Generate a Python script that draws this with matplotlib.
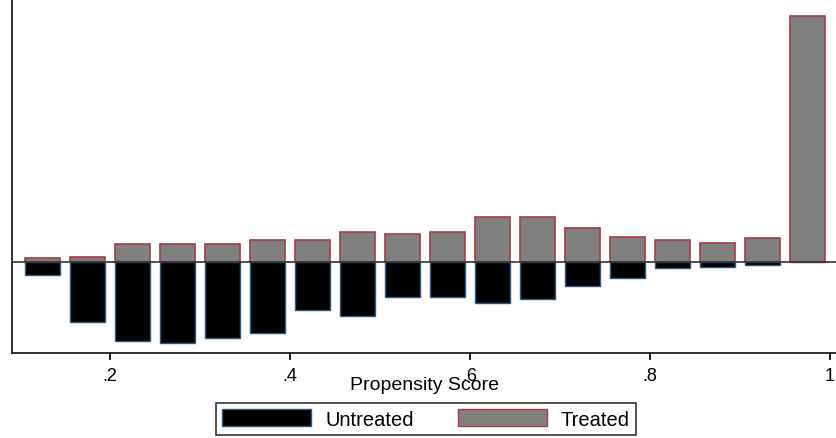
import numpy as np
import matplotlib
matplotlib.use('Agg')
import matplotlib.pyplot as plt
from matplotlib.patches import Patch

plt.rcParams['font.family'] = ['Liberation Sans', 'DejaVu Sans']

# bin centres of the propensity score histogram
bins = [0.125, 0.175, 0.225, 0.275, 0.325, 0.375, 0.425, 0.475, 0.525,
        0.575, 0.625, 0.675, 0.725, 0.775, 0.825, 0.875, 0.925, 0.975]
# bar heights (arbitrary frequency units)
treated = [4, 5, 18, 18, 18, 22, 22, 30, 28, 30, 45, 45, 34, 25, 22, 19, 24, 246]
untreated = [13, 60, 79, 81, 76, 71, 48, 54, 35, 35, 41, 37, 24, 16, 6, 5, 2.5, 0]

tick_pos = [0.2, 0.4, 0.6, 0.8, 1.0]
tick_lab = ['.2', '.4', '.6', '.8', '1']

fig = plt.figure(figsize=(8.36, 4.39), dpi=100)
ax = fig.add_axes([12/836, 85/439, 826/836, 354/439])

w = 0.038
ax.bar(bins, treated, width=w, color='#808080', edgecolor='#a83a44', linewidth=1.2)
ax.bar(bins, [-u for u in untreated], width=w, color='black', edgecolor='#2a5a86', linewidth=1.0)
ax.axhline(0, color='#333333', linewidth=1.2)

ax.set_xlim(0.091, 1.009)
ax.set_ylim(-91, 263)
ax.set_yticks([])
ax.set_xticks(tick_pos)
ax.set_xticklabels(tick_lab, fontsize=13)
ax.tick_params(axis='x', direction='out', length=5, width=1.2, pad=5)
for s in ['top', 'right']:
    ax.spines[s].set_visible(False)
for s in ['left', 'bottom']:
    ax.spines[s].set_linewidth(1.3)
    ax.spines[s].set_color('#222222')
ax.set_xlabel('Propensity Score', fontsize=14, labelpad=-6)

handles = [Patch(facecolor='black', edgecolor='#2a5a86', label='Untreated'),
           Patch(facecolor='#808080', edgecolor='#a83a44', label='Treated')]
leg = fig.legend(handles=handles, loc='center', bbox_to_anchor=(426/836, 1 - 420/439),
                 ncol=2, fontsize=14.5, frameon=True, fancybox=False, edgecolor='black',
                 handlelength=4.4, handleheight=0.9, handletextpad=0.7,
                 columnspacing=2.2, borderpad=0.3, borderaxespad=0)
leg.get_frame().set_linewidth(1.2)

fig.savefig('out.png', dpi=100)
